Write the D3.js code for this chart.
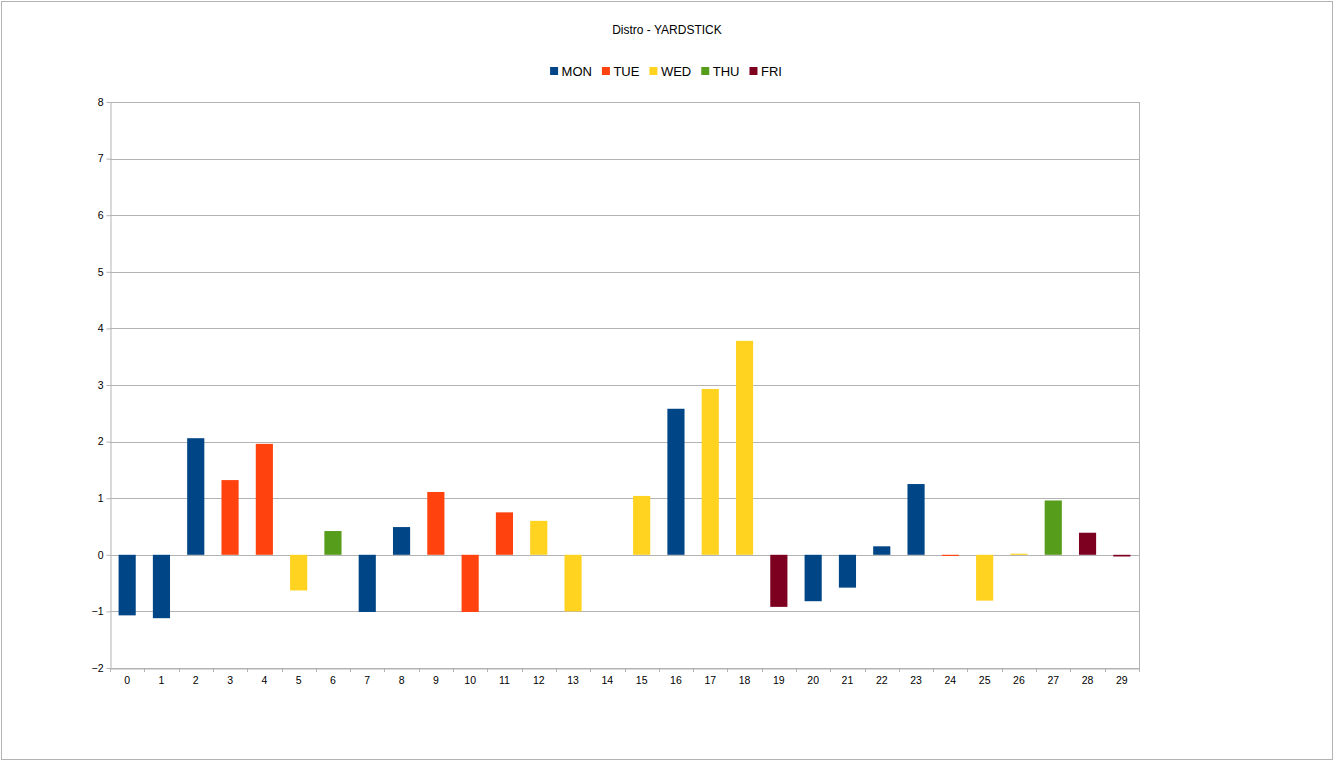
<!DOCTYPE html>
<html lang="en">
<head>
<meta charset="UTF-8">
<script src="https://d3js.org/d3.v7.min.js"></script>
<title>Distro - YARDSTICK</title>
<style>
  body { margin: 0; background: #fff; }
  svg { display: block; font-family: "Liberation Sans", Arial, sans-serif; }
  .axis text { fill: #000; font-size: 10.5px; }
</style>
</head>
<body>
<svg id="chart" width="1335" height="762"></svg>
<script>
// data
var categories = d3.range(0, 30).map(String);
var days = ["MON", "TUE", "WED", "THU", "FRI"];
var dayOf = ["MON","MON","MON","TUE","TUE","WED","THU","MON","MON","TUE",
             "TUE","TUE","WED","WED","WED","WED","MON","WED","WED","FRI",
             "MON","MON","MON","MON","TUE","WED","WED","THU","FRI","FRI"];
var values = [-1.07, -1.12, 2.06, 1.32, 1.96, -0.63, 0.42, -1.01, 0.49, 1.11,
              -1.01, 0.75, 0.60, -1.00, 0, 1.04, 2.58, 2.93, 3.78, -0.92,
              -0.82, -0.58, 0.15, 1.25, -0.02, -0.81, 0.02, 0.96, 0.39, -0.03];
var yTicks = [-2, -1, 0, 1, 2, 3, 4, 5, 6, 7, 8];
var dayColors = ["#004586", "#ff420e", "#ffd320", "#579d1c", "#7e0021"];

// plot box (window.top is read-only, so no "top" here)
var plotLeft = 110, plotRight = 1139, plotTop = 102, plotBottom = 668;

var svg = d3.select("#chart");

// outer frame
svg.append("rect")
  .attr("x", 1.5).attr("y", 1.5)
  .attr("width", 1331).attr("height", 758)
  .attr("fill", "#fff").attr("stroke", "#b3b3b3");

var x = d3.scaleBand()
  .domain(categories)
  .range([plotLeft, plotRight])
  .paddingInner(0.5)
  .paddingOuter(0.25);

var y = d3.scaleLinear()
  .domain([-2, 8])
  .range([plotBottom, plotTop]);

var color = d3.scaleOrdinal().domain(days).range(dayColors);

// grid lines
svg.append("g")
  .selectAll("line")
  .data(yTicks)
  .enter()
  .append("line")
  .attr("x1", plotLeft).attr("x2", plotRight)
  .attr("y1", function(d){ return Math.round(y(d)) + 0.5; })
  .attr("y2", function(d){ return Math.round(y(d)) + 0.5; })
  .attr("stroke", "#b3b3b3");

// right edge of plot area
svg.append("line")
  .attr("x1", plotRight + 0.5).attr("x2", plotRight + 0.5)
  .attr("y1", plotTop).attr("y2", plotBottom + 4)
  .attr("stroke", "#b3b3b3");

// bars
svg.append("g")
  .selectAll("rect")
  .data(values)
  .enter()
  .append("rect")
  .attr("x", function(d, i){ return x(categories[i]); })
  .attr("width", x.bandwidth())
  .attr("y", function(d){ return y(Math.max(0, d)); })
  .attr("height", function(d){ return Math.abs(y(d) - y(0)); })
  .attr("fill", function(d, i){ return color(dayOf[i]); });

// y axis
var yAxis = svg.append("g")
  .attr("class", "axis")
  .attr("transform", "translate(" + (plotLeft + 0.5) + ",0)")
  .call(d3.axisLeft(y).tickValues(yTicks).tickSize(4).tickSizeOuter(0).tickPadding(3));
yAxis.select(".domain").attr("stroke", "#b3b3b3");
yAxis.selectAll(".tick line").attr("stroke", "#b3b3b3");

// x axis: labels centred on bars, ticks on category boundaries
var xAxis = svg.append("g")
  .attr("class", "axis")
  .attr("transform", "translate(0," + (plotBottom + 0.5) + ")")
  .call(d3.axisBottom(x).tickSize(0).tickSizeOuter(0).tickPadding(8));
xAxis.select(".domain").attr("stroke", "#b3b3b3");

var edges = categories.map(function(c){ return x(c) - x.step() * 0.25; }).concat([plotRight]);
svg.append("g")
  .selectAll("line")
  .data(edges)
  .enter()
  .append("line")
  .attr("x1", function(d){ return Math.round(d) + 0.5; })
  .attr("x2", function(d){ return Math.round(d) + 0.5; })
  .attr("y1", plotBottom).attr("y2", plotBottom + 4)
  .attr("stroke", "#b3b3b3");

// title
svg.append("text")
  .attr("x", 667).attr("y", 34)
  .attr("text-anchor", "middle")
  .attr("font-size", "12px")
  .text("Distro - YARDSTICK");

// legend
var legend = svg.append("g");
var lx = 0;
days.forEach(function(d, i){
  var item = legend.append("g").attr("transform", "translate(" + lx + ",0)");
  item.append("rect")
    .attr("x", 0).attr("y", 67)
    .attr("width", 8).attr("height", 8)
    .attr("fill", dayColors[i]);
  var t = item.append("text")
    .attr("x", 11.5).attr("y", 76)
    .attr("font-size", "13px")
    .text(d);
  lx += 11.5 + t.node().getComputedTextLength() + 10;
});
var legendWidth = lx - 10;
legend.attr("transform", "translate(" + (666 - legendWidth / 2) + ",0)");
</script>
</body>
</html>
